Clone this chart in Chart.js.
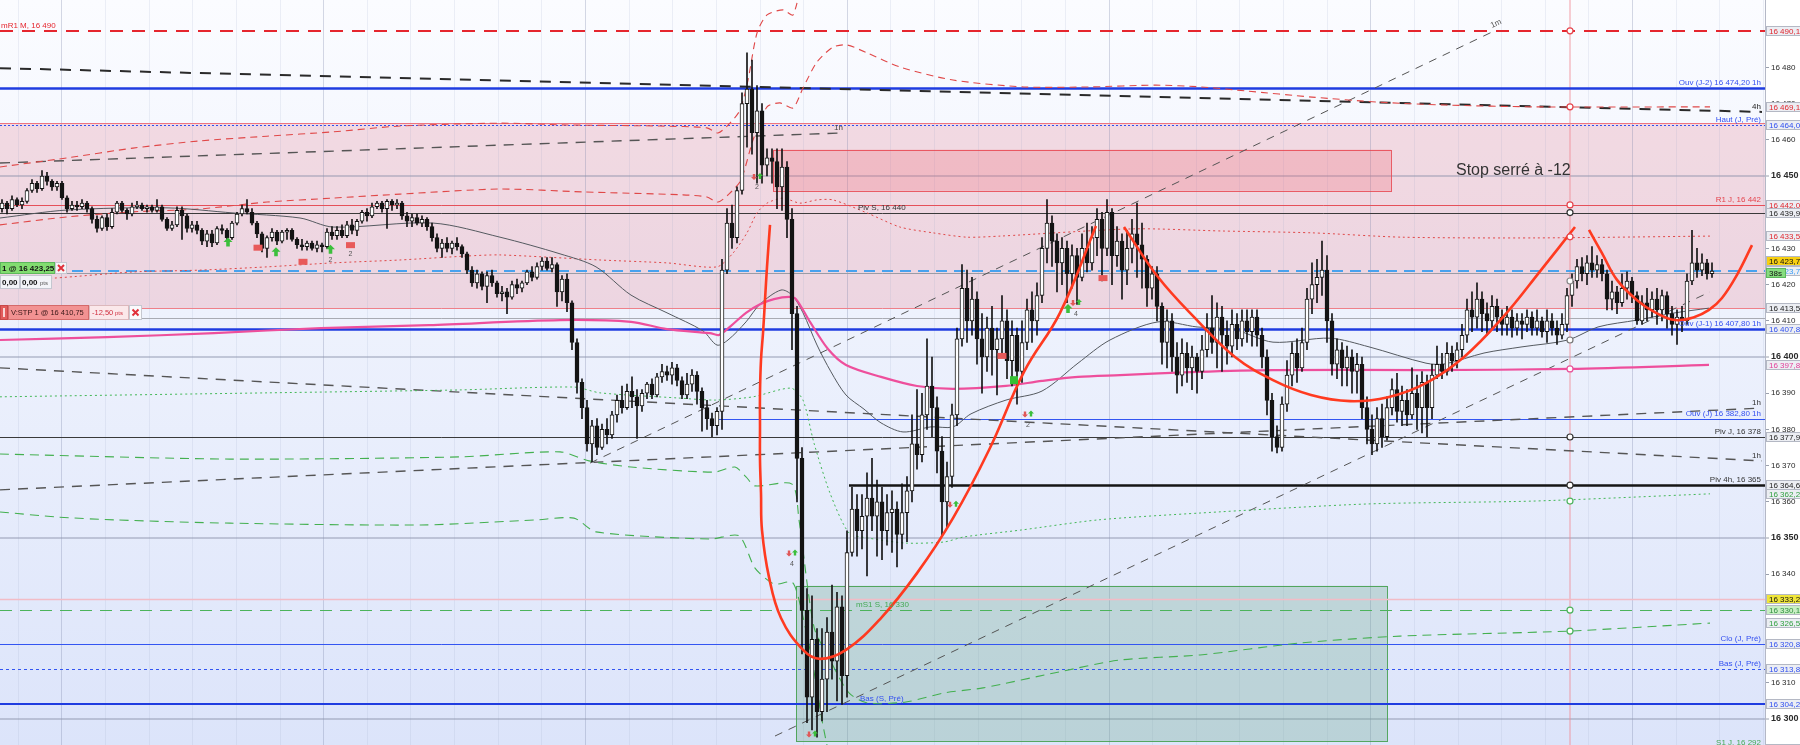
<!DOCTYPE html>
<html><head><meta http-equiv="Content-Type" content="text/html; charset=UTF-8">
<title>Intraday 16 400</title>
<script src="https://cdn.jsdelivr.net/npm/chart.js@4.4.1/dist/chart.umd.min.js"></script>
<style>
  html, body { margin: 0; padding: 0; background: #fff; }
  #wrap { width: 1800px; height: 745px; }
</style>
</head>
<body>
<div id="wrap"><canvas id="chart" width="1800" height="745"></canvas></div>
<script>
// ---- candles (one per bar of the time axis) ----
const opens = [16441,16442.5,16441,16443.5,16442,16443,16446,16448,16446.5,16450,16448.5,16447,16448,16444,16441,16442,16441.5,16442.5,16441,16438,
16435.5,16438.5,16436,16440,16442.5,16440.5,16439.5,16441.5,16442,16441,16441.5,16440.5,16441.5,16438,16435.5,16436.5,16440.5,16439,16435.5,16436.5,
16435,16432,16434,16431.5,16435.5,16435,16433,16437,16439.5,16441,16440,16437,16434,16430,16433,16434.5,16432,16434.5,16435,16432.5,
16431,16430.5,16431.5,16430,16431,16430.5,16434.5,16433.5,16435,16433.5,16436.5,16435,16437.5,16440,16439,16441.5,16442.5,16441,16443,16442,
16442.5,16439,16437.5,16438.5,16437,16438,16436,16433,16430,16431.5,16430,16431.5,16430.5,16428.5,16424,16420.5,16423,16419.5,16422.5,16420.5,
16417.5,16418,16416.5,16420,16419,16420.5,16423.5,16422,16425,16426.5,16424.5,16425.5,16418,16421.5,16415,16404,16393,16386,16376,16381,
16375,16380,16378.5,16384,16388,16386,16390.5,16389,16386.5,16390,16392.5,16389.5,16394.5,16396,16395,16397,16393.5,16389.5,16392.5,16395,
16390.5,16386,16383,16381,16385,16424,16437,16433,16446,16470,16474,16462,16468,16453,16455,16454,16447,16452.5,16438,16412,
16372,16330,16306,16322,16302,16311,16324,16316,16331,16312,16346,16358,16352,16356,16361,16356,16360,16352,16357,16358,
16351,16357,16363,16376,16373,16384,16392,16386,16374,16360,16367,16384,16405,16419,16410,16416,16405,16400,16408,16402,
16405,16410,16399,16406,16396,16404,16413,16410,16417,16430,16437,16432,16426,16430,16423,16428,16422,16430,16426,16433,
16438,16430,16440,16428,16432,16424,16430,16434,16431,16427,16419,16423,16414,16404,16410,16400,16395,16401,16397,16400,
16396,16402,16408,16404,16411,16406,16403,16409,16405,16410,16407,16411,16406,16400,16388,16378,16375,16387,16395,16401,
16397,16404,16416,16420,16422,16424,16410,16398,16402,16397,16400,16396,16398,16386,16380,16376,16383,16378,16386,16391,
16385,16388,16384,16390,16386,16393,16386,16395,16398,16396,16401,16399,16402,16406,16413,16411,16416,16412,16410,16414,
16411,16409,16411,16408,16410,16409,16411,16408,16410,16407,16410,16408,16406,16409,16417,16421,16425,16423,16426,16424,
16425.5,16423,16416,16418,16415,16419,16421,16417,16410,16415,16413,16416,16413,16417,16412,16409,16411,16410,16421,16426,
16424,16426,16423];
const highs = [16443.5,16443,16444.5,16444,16444,16446.5,16449,16448.5,16451.5,16451,16449,16448.5,16448.5,16444.5,16443,16443,16443.5,16443,16441.5,16439,
16439,16439.5,16441,16443,16443,16441,16442.5,16443,16442.5,16442,16442,16443.5,16442,16438.5,16437.5,16441.5,16441.5,16439.5,16437.5,16437.5,
16435.5,16435,16435,16436,16436.5,16435.5,16437.5,16440,16442,16443.5,16441,16437.5,16434.5,16433.5,16435.5,16435,16435,16435.5,16435.5,16433,
16432.5,16432,16432,16432,16431.5,16435.5,16436,16436,16436.5,16437.5,16438,16438,16440.5,16441,16442.5,16443,16443,16443.5,16443.5,16443.5,
16443,16440,16439.5,16439.5,16439,16438.5,16437,16434,16432.5,16433,16432,16433,16431,16429,16425,16424,16423.5,16423.5,16424,16421,
16419.5,16419,16421,16421.5,16421,16424,16425,16426,16427.5,16427.5,16427.5,16426,16422.5,16423,16415.5,16405,16394,16388,16382.5,16383,
16381.5,16383,16385,16389.5,16392,16392.5,16394.5,16391,16391,16393,16394,16395.5,16398,16397.5,16398.5,16398,16394.5,16395.5,16396.5,16396,
16391.5,16388,16384.5,16386,16427,16441,16442,16447,16473,16484,16482,16475,16470,16457.5,16457.5,16457.5,16457.5,16454,16441,16414,
16375,16336,16334,16325,16325,16328,16337,16335,16334,16352,16364,16362,16362,16368,16372,16366,16364,16362,16363,16360,
16365,16367,16384,16391,16390,16405,16400,16389,16378,16371,16387,16408,16425.5,16424,16422,16418,16412,16411,16414,16408,
16417,16413,16410,16408,16410,16416,16418,16420.5,16433,16443.5,16439,16434,16433,16432,16431,16430,16434,16437,16436,16441,
16440,16443.5,16441,16436,16434,16435,16438,16442.5,16437,16428,16425,16425,16415,16413,16412,16404,16405,16404,16403,16401,
16406,16412,16417,16415,16414,16410,16413,16412,16413,16413,16413,16413,16408,16402,16390,16381,16389,16399,16404,16405,
16408,16419,16426,16427,16432,16428,16412,16405,16404,16403,16402,16401,16400,16389,16384,16386,16387,16389,16394,16395.5,
16392,16391,16397,16395,16396,16395,16398,16403,16401,16404,16403,16404,16409,16416,16418,16420.5,16418,16415,16417,16416,
16413,16414,16413,16412,16412,16413,16412.5,16413,16411,16413,16412,16410,16412,16419,16423,16427,16427.5,16428,16430.5,16428,
16427,16424,16421,16419.5,16423,16423.5,16422,16418,16417,16419,16418,16419,16418.5,16418,16414,16413,16414,16423,16435,16430,
16428.5,16427,16426];
const lows = [16440,16439.5,16440.5,16441.5,16441,16442.5,16445.5,16445.5,16446,16447.5,16446,16446,16443.5,16440,16440.5,16440.5,16441,16440,16437,16434.5,
16435,16435,16435.5,16439.5,16440,16438,16439,16441,16440.5,16440,16440,16440,16437.5,16435,16435,16436,16432.5,16434.5,16434.5,16434,
16431,16430.5,16430.5,16431,16434,16432,16432.5,16436.5,16439,16439.5,16436.5,16433,16429,16427.5,16432,16431,16431.5,16432.5,16432,16430,
16429.5,16429.5,16429.5,16429,16429,16430,16432.5,16432.5,16433,16433,16434,16433.5,16437,16437.5,16438.5,16441,16440,16435.5,16440.5,16441,
16438,16436,16436,16436.5,16436,16435,16432,16429,16427.5,16429,16428.5,16429.5,16427.5,16423,16419.5,16419,16418.5,16415,16419.5,16416.5,
16415.5,16412,16416,16417.5,16418,16420,16421,16421.5,16424,16424,16423.5,16414,16415.5,16412.5,16402,16390,16383,16374,16371,16373,
16374.5,16376,16377.5,16382,16384.5,16385.5,16386,16377.5,16385,16388.5,16388.5,16389,16393,16393.5,16392.5,16392,16388.5,16388.5,16390.5,16387,
16379.5,16380,16378,16378.5,16380,16423,16430,16431.5,16445,16458,16456,16448,16448,16450,16448,16441,16440.5,16433,16402,16360,
16318,16299,16297,16295,16299.5,16302,16311,16305,16304,16306,16345,16345,16347,16339.5,16352,16345,16344,16348,16346,16342,
16347,16349,16360,16369,16371,16380,16378,16368,16350.5,16353,16364,16381,16403,16404,16406,16398,16390,16396,16395,16389.5,
16401,16394,16392,16387,16393,16402,16404,16406,16415,16426,16425,16418,16420,16415,16419,16414.5,16421,16423.5,16424,16428,
16421,16428,16420,16425,16416,16420,16426,16422,16419,16414,16416,16410,16398,16397,16396,16390,16392,16393,16391,16390,
16394,16400,16401,16397,16396,16398,16400,16402,16403,16404,16403,16403,16397,16384,16374,16373.5,16374,16385,16392,16393,
16396,16402,16412,16415,16417,16404,16395,16394,16392,16392,16390,16390,16383,16376,16373,16374,16375,16377,16384,16382,
16381,16381,16383,16380,16379,16378,16383,16394,16394,16395,16396,16397,16400,16404,16407,16408,16407,16406,16408,16407,
16406,16406,16405.5,16406,16405,16407,16406,16406,16405.5,16404,16406,16403.5,16405,16407,16414,16419,16421,16420,16422,16422,
16421,16413,16413,16412,16414,16416,16415,16409,16409,16410,16411,16409,16410,16408,16406,16403.5,16407,16409,16420,16422,
16422.5,16421.5,16422];
const closes = [16442.5,16441,16443.5,16442,16443,16446,16448,16446.5,16450,16448.5,16447,16448,16444,16441,16442,16441.5,16442.5,16441,16438,16435.5,
16438.5,16436,16440,16442.5,16440.5,16439.5,16441.5,16442,16441,16441.5,16440.5,16441.5,16438,16435.5,16436.5,16440.5,16439,16435.5,16436.5,16435,
16432,16434,16431.5,16435.5,16435,16433,16437,16439.5,16441,16440,16437,16434,16430,16433,16434.5,16432,16434.5,16435,16432.5,16431,
16430.5,16431.5,16430,16431,16430.5,16434.5,16433.5,16435,16433.5,16436.5,16435,16437.5,16440,16439,16441.5,16442.5,16441,16443,16442,16442.5,
16439,16437.5,16438.5,16437,16438,16436,16433,16430,16431.5,16430,16431.5,16430.5,16428.5,16424,16420.5,16423,16419.5,16422.5,16420.5,16417.5,
16418,16416.5,16420,16419,16420.5,16423.5,16422,16425,16426.5,16424.5,16425.5,16418,16421.5,16415,16404,16393,16386,16376,16381,16375,
16380,16378.5,16384,16388,16386,16390.5,16389,16386.5,16390,16392.5,16389.5,16394.5,16396,16395,16397,16393.5,16389.5,16392.5,16395,16390.5,
16386,16383,16381,16385,16424,16437,16433,16446,16470,16474,16462,16468,16453,16455,16454,16447,16452.5,16438,16412,16372,
16330,16306,16322,16302,16311,16324,16316,16331,16312,16346,16358,16352,16356,16361,16356,16360,16352,16357,16358,16351,
16357,16363,16376,16373,16384,16392,16386,16374,16360,16367,16384,16405,16419,16410,16416,16405,16400,16408,16402,16405,
16410,16399,16406,16396,16404,16413,16410,16417,16430,16437,16432,16426,16430,16423,16428,16422,16430,16426,16433,16438,
16430,16440,16428,16432,16424,16430,16434,16431,16427,16419,16423,16414,16404,16410,16400,16395,16401,16397,16400,16396,
16402,16408,16404,16411,16406,16403,16409,16405,16410,16407,16411,16406,16400,16388,16378,16375,16387,16395,16401,16397,
16404,16416,16420,16422,16424,16410,16398,16402,16397,16400,16396,16398,16386,16380,16376,16383,16378,16386,16391,16385,
16388,16384,16390,16386,16393,16386,16395,16398,16396,16401,16399,16402,16406,16413,16411,16416,16412,16410,16414,16411,
16409,16411,16408,16410,16409,16411,16408,16410,16407,16410,16408,16406,16409,16417,16421,16425,16423,16426,16424,16425.5,
16423,16416,16418,16415,16419,16421,16417,16410,16415,16413,16416,16413,16417,16412,16409,16411,16410,16421,16426,16424,
16426,16423,16423.75];

// ---- indicator curves: [bar index, price] ----
const bandRedTop = [[-0.4,16452.5],[13,16455],[26.2,16457.7],[39.6,16459.7],[53,16461],[66.2,16462.2],[79.6,16463.8],[99.6,16464.6],[113,16464.1],[131.6,16463.8],[141,16463.3],[143.2,16461.9],[145.6,16464.6],[147.6,16468.2],[149.2,16476.5],[151,16489.5],[153,16494.5],[156.2,16495.9],[158.2,16494.5],[160.2,16505.5]];
const bandRedUpper = [[-0.4,16436.5],[13,16438.7],[26.2,16440.1],[39.6,16440.9],[53,16442.8],[66.2,16443.9],[79.6,16445],[99.6,16446.4],[116.2,16445.6],[136.2,16444.8],[141,16444.2],[143.2,16442.8],[145.6,16445.3],[147.8,16448.9],[150.2,16459.9],[153,16469.1],[155.6,16470.2],[158.2,16468.8],[160.2,16474.3],[163,16481.5],[166.2,16485.6],[169,16486.2],[173,16484],[179.6,16480.1],[190.2,16476.5],[204.4,16474.6],[217.4,16474.6],[230.8,16475.1],[239.8,16474.6],[248.8,16473.5],[262,16471.8],[275.4,16470.4],[288.8,16469.6],[306.8,16469.1],[341.6,16469.1]];
const bandRedDot = [[-0.4,16421.3],[10.4,16421.8],[26.2,16423.5],[39.6,16424],[53,16424.9],[66.2,16426],[79.6,16426.8],[93,16427.9],[99.6,16428.2],[119.6,16426.8],[133,16426],[143,16424.9],[146.2,16428.7],[149,16434.3],[151,16439.8],[153,16442.5],[156.2,16443.9],[159.6,16442.5],[163,16443.4],[166.2,16443.4],[173,16439.8],[179.6,16435.9],[186.2,16434.3],[193,16433.1],[199.6,16433.4],[226.4,16435.4],[244.2,16434.8],[262,16434.3],[280,16433.1],[306.8,16432.9],[341.6,16433.4]];
const maGrey = [[-0.4,16438.4],[13,16440.6],[33,16441.2],[46.2,16439.8],[59.6,16438.4],[66.2,16435.9],[86.2,16437],[99.6,16433.1],[111.6,16428.5],[118.8,16424.9],[125.8,16417.1],[133,16412.2],[140.2,16407.2],[143,16403.3],[145.2,16404.7],[148.8,16409.7],[151.6,16414.6],[155.8,16418.5],[158,16417.1],[160.2,16412.2],[163,16403.3],[165.8,16395.9],[168.8,16389.5],[172.4,16385.6],[175.8,16381.8],[180.2,16379.3],[185.8,16380.7],[190.2,16380.7],[193.8,16384.3],[200.8,16388.1],[208,16390.6],[215.2,16398.3],[221.6,16404.7],[231.2,16409.7],[239,16408.3],[246.6,16407.5],[254.2,16404.1],[265.6,16405.2],[273.4,16402.8],[284.8,16398.3],[288.6,16398.1],[296.4,16401.1],[304,16402.8],[313.2,16404.7],[319.2,16408.3],[327,16410.2],[334.6,16412.2],[341.4,16413.5]];
const maPink = [[-0.4,16404.7],[21,16405.5],[42.4,16406.6],[63.8,16408],[85.4,16408.8],[111.6,16410.2],[125.8,16409.7],[133,16407.7],[141.6,16406.6],[143.4,16406.1],[145.8,16408.6],[148.8,16412.2],[151.6,16414.6],[154.4,16416],[157.4,16416.6],[158.8,16416],[161.6,16409.7],[165.2,16402.2],[168.8,16397.8],[175.8,16394.5],[183,16392],[190.2,16391.2],[200.8,16392],[208,16393.4],[215.2,16394.5],[223.6,16395],[239,16395.9],[254.2,16396.4],[284.8,16396.4],[313.6,16396.7],[341.4,16397.8]];
const bandGreenDot = [[-0.4,16389],[53.2,16390.1],[91.4,16390.9],[114.4,16391.7],[119.6,16390.1],[135,16388.7],[142.6,16388.1],[150.2,16389],[157.8,16391.4],[160.2,16388.1],[162.4,16376.2],[165.6,16362.4],[169.4,16351.4],[173.2,16350],[180.8,16348.6],[188.4,16348.9],[192.4,16350.3],[203.8,16352.2],[219.2,16355],[239.6,16356.9],[273,16359.4],[306.2,16360.2],[341.6,16362.2]];
const bandGreenMid = [[-0.4,16373.2],[45.6,16371.8],[91.4,16372.4],[111.6,16373.8],[117.4,16371.3],[125.8,16369.6],[142.4,16368.2],[146.6,16369.6],[148.8,16366.9],[150.6,16364.4],[158,16364.9],[159.4,16355],[162.4,16325.4],[165.6,16316.3],[169.4,16307.2],[173.2,16304.4],[180.8,16304.7],[188.4,16307.2],[196.2,16308.6],[211.4,16313],[223.6,16316.3],[239.6,16317.7],[259.6,16321],[279.6,16322.9],[313.6,16324.3],[341.6,16326.5]];
const bandGreenLow = [[-0.4,16357.2],[11,16355.8],[22.6,16355],[45.6,16354.1],[83.8,16353.6],[106.8,16355],[114.4,16355.5],[118.8,16351.7],[141.6,16349.7],[147.4,16350.6],[150.6,16341.7],[154.4,16337.3],[158,16337.8],[159.4,16332.9],[162,16316.3],[164,16299.7],[165.6,16288.7]];

// ---- drawn trend lines ----
const trend4h = [[-0.4,16479.8],[352,16467.7]];
const trend1hTop = [[-0.4,16453.6],[168.2,16461.9]];
const trend1hDown = [[-0.4,16397],[352,16371.3]];
const trend1hUp = [[-0.4,16363.3],[352,16385.9]];
const diag1m = [[117.6,16370.7],[298.8,16490.3]];
const diagLow = [[154.6,16295.3],[341.6,16418]];

// ---- hand drawn red arcs ----
const arcBig = [[153.6,16436.5],[153,16424.9],[152.6,16415.7],[152.2,16406.6],[151.8,16399.2],[151.6,16390.1],[151.6,16380.7],[151.6,16371.5],[151.8,16362.4],[152,16352.2],[153.4,16339.2],[155.8,16327.9],[160.2,16319.1],[163.6,16316.6],[168.8,16319.1],[175.8,16327.9],[183,16340.3],[190.2,16355.5],[197.4,16374.3],[204.4,16395.9],[211.6,16412.2],[218.8,16436.2]];
const arcMid = [[224.4,16435.9],[231.2,16422.1],[239,16410.2],[246.6,16400],[254.2,16393.6],[261.8,16389.5],[269.6,16387.8],[277.2,16388.9],[284.8,16392.8],[292.4,16400],[300.2,16411],[307.8,16424],[314.6,16435.9]];
const arcRight = [[317.4,16435.1],[320,16428.7],[323,16421.3],[327,16415.7],[330.8,16412.2],[334.6,16410.2],[338.4,16411],[341.4,16413],[344,16416.3],[347,16422.7],[350,16430.9]];

// ---- horizontal levels ----
const levels = [
  ['mR1 M', 16490.1], ['Ouv (J-2)', 16474.2], ['Zone haut', 16464.6], ['Haut (J, Pré)', 16464.0],
  ['R1 J', 16442.0], ['Piv S', 16439.9], ['Cours', 16423.7], ['Achat', 16423.25], ['Zone bas', 16413.5],
  ['Stop', 16410.75], ['Ouv (J-1)', 16407.8], ['Ouv (J)', 16382.8], ['Piv J', 16377.9], ['Piv 4h', 16364.6],
  ['Clo (S)', 16333.2], ['mS1 S', 16330.1], ['Clo (J, Pré)', 16320.8], ['Bas (J, Pré)', 16313.8], ['Bas (S, Pré)', 16304.2]
];
const levelStart = { 'Ouv (J)': 143, 'Piv 4h': 169.4 };
const zoneBand = [16464.6, 16413.5];
const boxRed = [154.2, 277.8, 16445.9, 16457.3];
const boxGreen = [158.8, 277, 16293.9, 16336.8];
const nowIdx = 313.6;
const nowMarks = [[16490.1,'#e5444c'],[16469.1,'#e5444c'],[16442.0,'#e5444c'],[16439.9,'#333'],[16433.2,'#e5444c'],[16421.0,'#888'],[16404.7,'#777'],[16396.7,'#e8559c'],[16377.9,'#333'],[16364.6,'#333'],[16360.2,'#4cb35c'],[16330.1,'#4cb35c'],[16324.3,'#4cb35c']];

// right hand price tags
const tags = [
  [16490.1,'red'],[16469.1,'red'],[16464.0,'blue'],[16442.0,'red'],[16439.9,'black'],[16433.5,'red'],
  [16423.7,'lightblue'],[16423.7,'last'],[16413.5,'black'],[16407.8,'blue'],[16397.8,'pink'],[16377.9,'black'],
  [16364.6,'black'],[16362.2,'green'],[16333.2,'yellow'],[16330.1,'greenfill'],[16326.5,'green'],
  [16320.8,'blue'],[16313.8,'blue'],[16304.2,'blue'],[16291.8,'green']
];

// level captions: text, price, bar index (null = right edge), colour
const notes = [
  ['mR1 M, 16 490', 16490.1, -0.2, '#e5262e'],
  ['Ouv (J-2) 16 474,20 1h', 16474.2, null, '#3450f0'],
  ['4h', 16467.7, null, '#222'],
  ['Haut (J, Pré)', 16464.0, null, '#3450f0'],
  ['1h', 16461.9, 166.4, '#444'],
  ['R1 J, 16 442', 16442.0, null, '#e5444c'],
  ['Piv S, 16 440', 16439.9, 171.2, '#333'],
  ['Ouv (J-1) 16 407,80 1h', 16407.8, null, '#3450f0'],
  ['1h', 16385.9, null, '#333'],
  ['Ouv (J) 16 382,80 1h', 16382.8, null, '#3450f0'],
  ['Piv J, 16 378', 16377.9, null, '#333'],
  ['1h', 16371.3, null, '#333'],
  ['Piv 4h, 16 365', 16364.6, null, '#333'],
  ['mS1 S, 16 330', 16330.1, 170.8, '#45a955'],
  ['Clo (J, Pré)', 16320.8, null, '#3450f0'],
  ['Bas (J, Pré)', 16313.8, null, '#3450f0'],
  ['Bas (S, Pré)', 16304.2, 171.6, '#3450f0'],
  ['S1 J, 16 292', 16292.0, null, '#45a955']
];

// trade markers
const upArrows = [[45.2,16431.8],[54.8,16429.1],[65.7,16429.8],[213.2,16413.4]];
const arrowPairs = [[151,16449.7],[214.8,16414.9],[205.2,16384.1],[190.2,16359.2],[158,16345.7],[162,16295.7]];
const redBlocks = [[51.2,16430.2],[60.2,16426.3],[69.7,16430.9],[220.2,16421.8],[200,16400.3]];
const greenBlocks = [[202.4,16393.6]];
const markNotes = [[65.7,16426.9,'2'],[69.7,16428.5,'2'],[151,16447,'2'],[214.8,16412,'4'],[158,16342.8,'4'],[205.2,16381.2,'2']];

// ---- helpers ----
const F = "'Liberation Sans', Arial, sans-serif";
function spaced(s) { return s.replace(/\B(?=(\d{3})+(?!\d))/g, ' '); }
function fmtTick(v) { return spaced(String(Math.round(v))); }
function fmtTag(v) { const p = v.toFixed(1).split('.'); return spaced(p[0]) + ',' + p[1]; }
const xy = arr => arr.map(p => ({ x: p[0], y: p[1] }));
function lineDs(arr, color, width, dash, order, tension) {
  return { type: 'line', data: xy(arr), borderColor: color, borderWidth: width, borderDash: dash,
           pointRadius: 0, fill: false, tension: tension, order: order, borderCapStyle: 'butt' };
}

const levelStyle = {
  'mR1 M': ['#e5262e', 2, [13, 9]],
  'Ouv (J-2)': ['#1f3ce0', 2.5, []],
  'Zone haut': ['#ee7580', 1, []],
  'Haut (J, Pré)': ['#3050f0', 1, [2, 2]],
  'R1 J': ['#e5505a', 1, []],
  'Piv S': ['#3a3a3a', 1, []],
  'Cours': ['#48a2ee', 2, [11, 7]],
  'Achat': ['#9a9ca6', 1, []],
  'Zone bas': ['#ef8089', 1, []],
  'Stop': ['#a9abb3', 1, []],
  'Ouv (J-1)': ['#1f3ce0', 2.5, []],
  'Ouv (J)': ['#3355f2', 1, []],
  'Piv J': ['#3a3a3a', 1, []],
  'Piv 4h': ['#151515', 2.5, []],
  'Clo (S)': ['#f2bcc6', 1.5, []],
  'mS1 S': ['#4cb35c', 1.2, [12, 8]],
  'Clo (J, Pré)': ['#3355f2', 1, []],
  'Bas (J, Pré)': ['#3355f2', 1, [3, 3]],
  'Bas (S, Pré)': ['#1f3ce0', 2, []]
};
const tagLook = {
  red: ['#e0262e', '#eceef3'], blue: ['#2f4ff0', '#eceef3'], black: ['#222', '#eceef3'],
  lightblue: ['#3a9cf5', '#eceef3'], last: ['#111', '#f7cf12'], pink: ['#e2409a', '#eceef3'],
  green: ['#2f9f3f', '#eceef3'], yellow: ['#111', '#efe53a'], greenfill: ['#2f8f3f', '#c9efc4']
};

const gridIdx = [];
for (let k = 0; k <= 40; k++) gridIdx.push(3.26 + 8.726 * k);

// ---- drawing plugins ----
function X(chart, i) { return chart.scales.x.getPixelForValue(i); }
function Yp(chart, v) { return chart.scales.y.getPixelForValue(v); }

const backdrop = {
  id: 'backdrop',
  beforeDraw(chart) {
    const { ctx, chartArea: a } = chart;
    ctx.save();
    ctx.fillStyle = '#fff';
    ctx.fillRect(0, 0, chart.width, chart.height);
    const g = ctx.createLinearGradient(0, a.top, 0, a.bottom);
    g.addColorStop(0, '#fbfcff');
    g.addColorStop(1, '#dce4fa');
    ctx.fillStyle = g;
    ctx.fillRect(a.left, a.top, a.right - a.left, a.bottom - a.top);
    const z1 = Yp(chart, zoneBand[0]), z2 = Yp(chart, zoneBand[1]);
    ctx.fillStyle = 'rgba(230,120,140,0.24)';
    ctx.fillRect(a.left, z1, a.right - a.left, z2 - z1);
    ctx.restore();
  },
  beforeDatasetsDraw(chart) {
    const { ctx, chartArea: a } = chart;
    ctx.save();
    ctx.beginPath();
    ctx.rect(a.left, a.top, a.right - a.left, a.bottom - a.top);
    ctx.clip();
    // boxes
    [[boxRed, 'rgba(240,100,115,0.26)', 'rgba(232,70,80,0.85)'],
     [boxGreen, 'rgba(110,170,140,0.30)', 'rgba(70,160,80,0.9)']].forEach(([b, fill, stroke]) => {
      const x1 = X(chart, b[0]), x2 = X(chart, b[1]);
      const y1 = Yp(chart, b[3]), y2 = Yp(chart, b[2]);
      ctx.fillStyle = fill;
      ctx.fillRect(x1, y1, x2 - x1, y2 - y1);
      ctx.strokeStyle = stroke;
      ctx.lineWidth = 1;
      ctx.strokeRect(Math.round(x1) + 0.5, Math.round(y1) + 0.5, Math.round(x2 - x1), Math.round(y2 - y1));
    });
    // time marker
    const xn = X(chart, nowIdx);
    ctx.strokeStyle = 'rgba(240,140,150,0.55)';
    ctx.lineWidth = 1.5;
    ctx.beginPath(); ctx.moveTo(xn, a.top); ctx.lineTo(xn, a.bottom); ctx.stroke();
    // horizontal levels
    levels.forEach(([name, v]) => {
      const st = levelStyle[name];
      const y = Math.round(Yp(chart, v)) + (st[1] % 2 ? 0.5 : 0);
      const x0 = levelStart[name] !== undefined ? X(chart, levelStart[name]) : a.left;
      ctx.strokeStyle = st[0];
      ctx.lineWidth = st[1];
      ctx.setLineDash(st[2]);
      ctx.beginPath(); ctx.moveTo(x0, y); ctx.lineTo(a.right, y); ctx.stroke();
    });
    ctx.setLineDash([]);
    ctx.restore();
  },
  afterDatasetsDraw(chart) {
    const { ctx } = chart;
    ctx.save();
    // markers on the time line
    const xn = X(chart, nowIdx);
    nowMarks.forEach(([v, c]) => {
      ctx.beginPath();
      ctx.arc(xn, Yp(chart, v), 3, 0, Math.PI * 2);
      ctx.fillStyle = '#fff'; ctx.fill();
      ctx.strokeStyle = c; ctx.lineWidth = 1.2; ctx.stroke();
    });
    // trade markers
    const up = (x, y, s, c) => {
      ctx.fillStyle = c;
      ctx.beginPath();
      ctx.moveTo(x, y - s); ctx.lineTo(x + s, y); ctx.lineTo(x + s * 0.4, y); ctx.lineTo(x + s * 0.4, y + s);
      ctx.lineTo(x - s * 0.4, y + s); ctx.lineTo(x - s * 0.4, y); ctx.lineTo(x - s, y); ctx.closePath(); ctx.fill();
    };
    const down = (x, y, s, c) => {
      ctx.fillStyle = c;
      ctx.beginPath();
      ctx.moveTo(x, y + s); ctx.lineTo(x + s, y); ctx.lineTo(x + s * 0.4, y); ctx.lineTo(x + s * 0.4, y - s);
      ctx.lineTo(x - s * 0.4, y - s); ctx.lineTo(x - s * 0.4, y); ctx.lineTo(x - s, y); ctx.closePath(); ctx.fill();
    };
    upArrows.forEach(([i, v]) => up(X(chart, i), Yp(chart, v), 4.5, '#3cbf3c'));
    arrowPairs.forEach(([i, v]) => {
      const x = X(chart, i), y = Yp(chart, v);
      down(x - 3, y, 3, '#e05858');
      up(x + 3, y - 1, 3, '#3cbf3c');
    });
    redBlocks.forEach(([i, v]) => { ctx.fillStyle = '#e85a5a'; ctx.fillRect(X(chart, i) - 4.5, Yp(chart, v) - 3, 9, 6); });
    greenBlocks.forEach(([i, v]) => { ctx.fillStyle = '#35c035'; ctx.fillRect(X(chart, i) - 4, Yp(chart, v) - 4, 8, 8); });
    ctx.font = '7px ' + F; ctx.fillStyle = '#555'; ctx.textAlign = 'center'; ctx.textBaseline = 'middle';
    markNotes.forEach(([i, v, t]) => ctx.fillText(t, X(chart, i), Yp(chart, v)));
    ctx.restore();
  },
  afterDraw(chart) {
    const { ctx, chartArea: a } = chart;
    ctx.save();
    // captions of the levels
    ctx.font = '8px ' + F;
    ctx.textBaseline = 'alphabetic';
    notes.forEach(([t, v, i, c]) => {
      const y = Yp(chart, v) - 3;
      ctx.fillStyle = c;
      if (i === null) { ctx.textAlign = 'right'; ctx.fillText(t, a.right - 4, y); }
      else { ctx.textAlign = 'left'; ctx.fillText(t, X(chart, i), y); }
    });
    // slanted label of the monthly line
    ctx.save();
    ctx.translate(X(chart, diag1m[1][0]) - 4, Yp(chart, diag1m[1][1]) - 2);
    ctx.rotate(-0.45);
    ctx.fillStyle = '#555'; ctx.textAlign = 'left';
    ctx.fillText('1m', 0, 0);
    ctx.restore();
    // comment
    ctx.font = '16px ' + F;
    ctx.fillStyle = '#333';
    ctx.textAlign = 'left'; ctx.textBaseline = 'middle';
    ctx.fillText('Stop serré à -12', X(chart, 290.8), Yp(chart, 16451.6));

    // right hand price tags
    ctx.font = '8px ' + F;
    ctx.textBaseline = 'middle';
    ctx.textAlign = 'left';
    tags.forEach(([v, kind]) => {
      const look = tagLook[kind];
      let y = Yp(chart, v);
      if (kind === 'last') y -= 10;
      const top = Math.round(y - 5);
      ctx.fillStyle = look[1];
      ctx.fillRect(a.right + 1, top, 40, 10);
      ctx.strokeStyle = '#b4b8c4'; ctx.lineWidth = 1;
      ctx.strokeRect(a.right + 1.5, top + 0.5, 40, 9);
      ctx.fillStyle = look[0];
      ctx.fillText(fmtTag(v), a.right + 4, top + 5.5);
    });
    const y38 = Math.round(Yp(chart, 16423.7)) - 3;
    ctx.fillStyle = '#86dc7e'; ctx.fillRect(a.right + 1, y38, 20, 10);
    ctx.strokeStyle = '#5cb85c'; ctx.strokeRect(a.right + 1.5, y38 + 0.5, 19, 9);
    ctx.fillStyle = '#111'; ctx.fillText('38s', a.right + 4, y38 + 5.5);

    // order tickets on the left
    const ya = Math.round(Yp(chart, 16423.25));
    const ys = Math.round(Yp(chart, 16410.75));
    const panel = (x, y, w, h, fill, stroke) => {
      ctx.fillStyle = fill; ctx.fillRect(x, y, w, h);
      ctx.strokeStyle = stroke; ctx.lineWidth = 1; ctx.strokeRect(x + 0.5, y + 0.5, w - 1, h - 1);
    };
    const cross = (cx, cy) => {
      ctx.strokeStyle = '#e0303a'; ctx.lineWidth = 2;
      ctx.beginPath(); ctx.moveTo(cx - 3, cy - 3); ctx.lineTo(cx + 3, cy + 3);
      ctx.moveTo(cx + 3, cy - 3); ctx.lineTo(cx - 3, cy + 3); ctx.stroke();
    };
    panel(0, ya - 11, 55, 12, '#82dc70', '#5cb85c');
    panel(55, ya - 11, 12, 12, '#f4f4f7', '#c6c8d0');
    cross(61, ya - 5);
    panel(0, ya + 2, 20, 14, '#f3f4f8', '#c4c7d0');
    panel(20, ya + 2, 32, 14, '#f3f4f8', '#c4c7d0');
    ctx.font = 'bold 8px ' + F; ctx.fillStyle = '#111'; ctx.textBaseline = 'middle';
    ctx.fillText('1 @ 16 423,25', 2, ya - 4.5);
    ctx.fillText('0,00', 2, ya + 9.5);
    ctx.fillText('0,00', 22, ya + 9.5);
    ctx.font = '6px ' + F; ctx.fillStyle = '#555';
    ctx.fillText('pts', 40, ya + 10);

    panel(0, ys - 13, 8, 15, '#e25c5c', '#c84848');
    panel(8, ys - 13, 81, 15, '#f29292', '#d46a6a');
    panel(89, ys - 13, 40, 15, '#fbe8ea', '#dcb8bc');
    panel(129, ys - 13, 13, 15, '#fafafc', '#c6c8d0');
    cross(135.5, ys - 5.5);
    ctx.strokeStyle = '#fff'; ctx.lineWidth = 1.5;
    ctx.beginPath(); ctx.moveTo(4, ys - 10); ctx.lineTo(4, ys - 1); ctx.stroke();
    ctx.font = '7.5px ' + F; ctx.fillStyle = '#3a1818';
    ctx.fillText('V:STP 1 @ 16 410,75', 11, ys - 5);
    ctx.fillStyle = '#d03040';
    ctx.fillText('-12,50', 92, ys - 5);
    ctx.font = '6px ' + F;
    ctx.fillText('pts', 115, ys - 4.5);
    ctx.restore();
  }
};

// ---- datasets ----
const wickData = highs.map((h, i) => ({ x: i, y: [lows[i], h] }));
const bodyData = opens.map((o, i) => ({ x: i, y: [Math.min(o, closes[i]), Math.max(o, closes[i])] }));

const datasets = [
  lineDs(arcBig, '#ff3a20', 2.6, [], 0, 0.4),
  lineDs(arcMid, '#ff3a20', 2.6, [], 0, 0.4),
  lineDs(arcRight, '#ff3a20', 2.6, [], 0, 0.4),
  {
    type: 'bar', data: bodyData, order: 2, grouped: false, barThickness: 4, minBarLength: 1,
    backgroundColor: c => (closes[c.dataIndex] >= opens[c.dataIndex] ? '#ffffff' : '#141414'),
    borderColor: '#141414', borderWidth: 1, borderSkipped: false
  },
  { type: 'bar', data: wickData, order: 3, grouped: false, barThickness: 1, backgroundColor: '#141414', borderWidth: 0 },
  lineDs(maPink, '#ee4f9c', 2.2, [], 4, 0.3),
  lineDs(maGrey, '#555a60', 1, [], 4, 0.3),
  lineDs(bandRedTop, '#e04848', 1.1, [7, 5], 5, 0.25),
  lineDs(bandRedUpper, '#e04848', 1.1, [7, 5], 5, 0.25),
  lineDs(bandRedDot, '#e04848', 1, [2, 3], 5, 0.25),
  lineDs(bandGreenDot, '#44b858', 1, [2, 3], 5, 0.25),
  lineDs(bandGreenMid, '#44b050', 1.1, [9, 6], 5, 0.25),
  lineDs(bandGreenLow, '#44b050', 1.1, [9, 6], 5, 0.25),
  lineDs(trend4h, '#2a2a2a', 2, [11, 9], 5, 0),
  lineDs(trend1hTop, '#555', 1.4, [10, 8], 5, 0),
  lineDs(trend1hDown, '#555', 1.4, [10, 8], 5, 0),
  lineDs(trend1hUp, '#555', 1.4, [10, 8], 5, 0),
  lineDs(diag1m, '#555', 1, [8, 7], 5, 0),
  lineDs(diagLow, '#555', 1, [8, 7], 5, 0)
];

new Chart(document.getElementById('chart'), {
  type: 'bar',
  data: { datasets: datasets },
  options: {
    responsive: false,
    animation: false,
    events: [],
    layout: { padding: 0, autoPadding: false },
    plugins: { legend: { display: false }, tooltip: { enabled: false } },
    scales: {
      x: {
        type: 'linear', min: -0.4, max: 352.6, offset: false,
        border: { display: false },
        grid: {
          offset: false, drawTicks: false,
          color: c => (c.index % 6 === 1 ? 'rgba(120,130,165,0.30)' : 'rgba(150,160,195,0.15)')
        },
        ticks: { display: false },
        afterBuildTicks: s => { s.ticks = gridIdx.map(v => ({ value: v })); },
        afterFit: s => { s.height = 0; s.paddingLeft = 0; s.paddingRight = 0; s.paddingTop = 0; s.paddingBottom = 0; }
      },
      y: {
        type: 'linear', position: 'right', min: 16292.82, max: 16498.62,
        border: { color: '#b4b8c6' },
        grid: {
          color: c => (c.tick && c.tick.value % 50 === 0 ? 'rgba(140,146,170,0.45)' : 'rgba(0,0,0,0)'),
          lineWidth: c => (c.tick && c.tick.value % 50 === 0 ? 2 : 1),
          tickColor: '#9aa0ad', tickWidth: 1, tickLength: 4, drawTicks: true
        },
        ticks: {
          stepSize: 10, includeBounds: false, padding: 2, color: '#2a2a2a',
          callback: v => fmtTick(v),
          font: c => (c.tick && c.tick.value % 50 === 0 ? { family: F, size: 9, weight: 'bold' } : { family: F, size: 8 })
        },
        afterFit: s => { s.width = 35; s.paddingTop = 0; s.paddingBottom = 0; s.paddingLeft = 0; s.paddingRight = 0; }
      }
    }
  },
  plugins: [backdrop]
});
</script>
</body></html>
